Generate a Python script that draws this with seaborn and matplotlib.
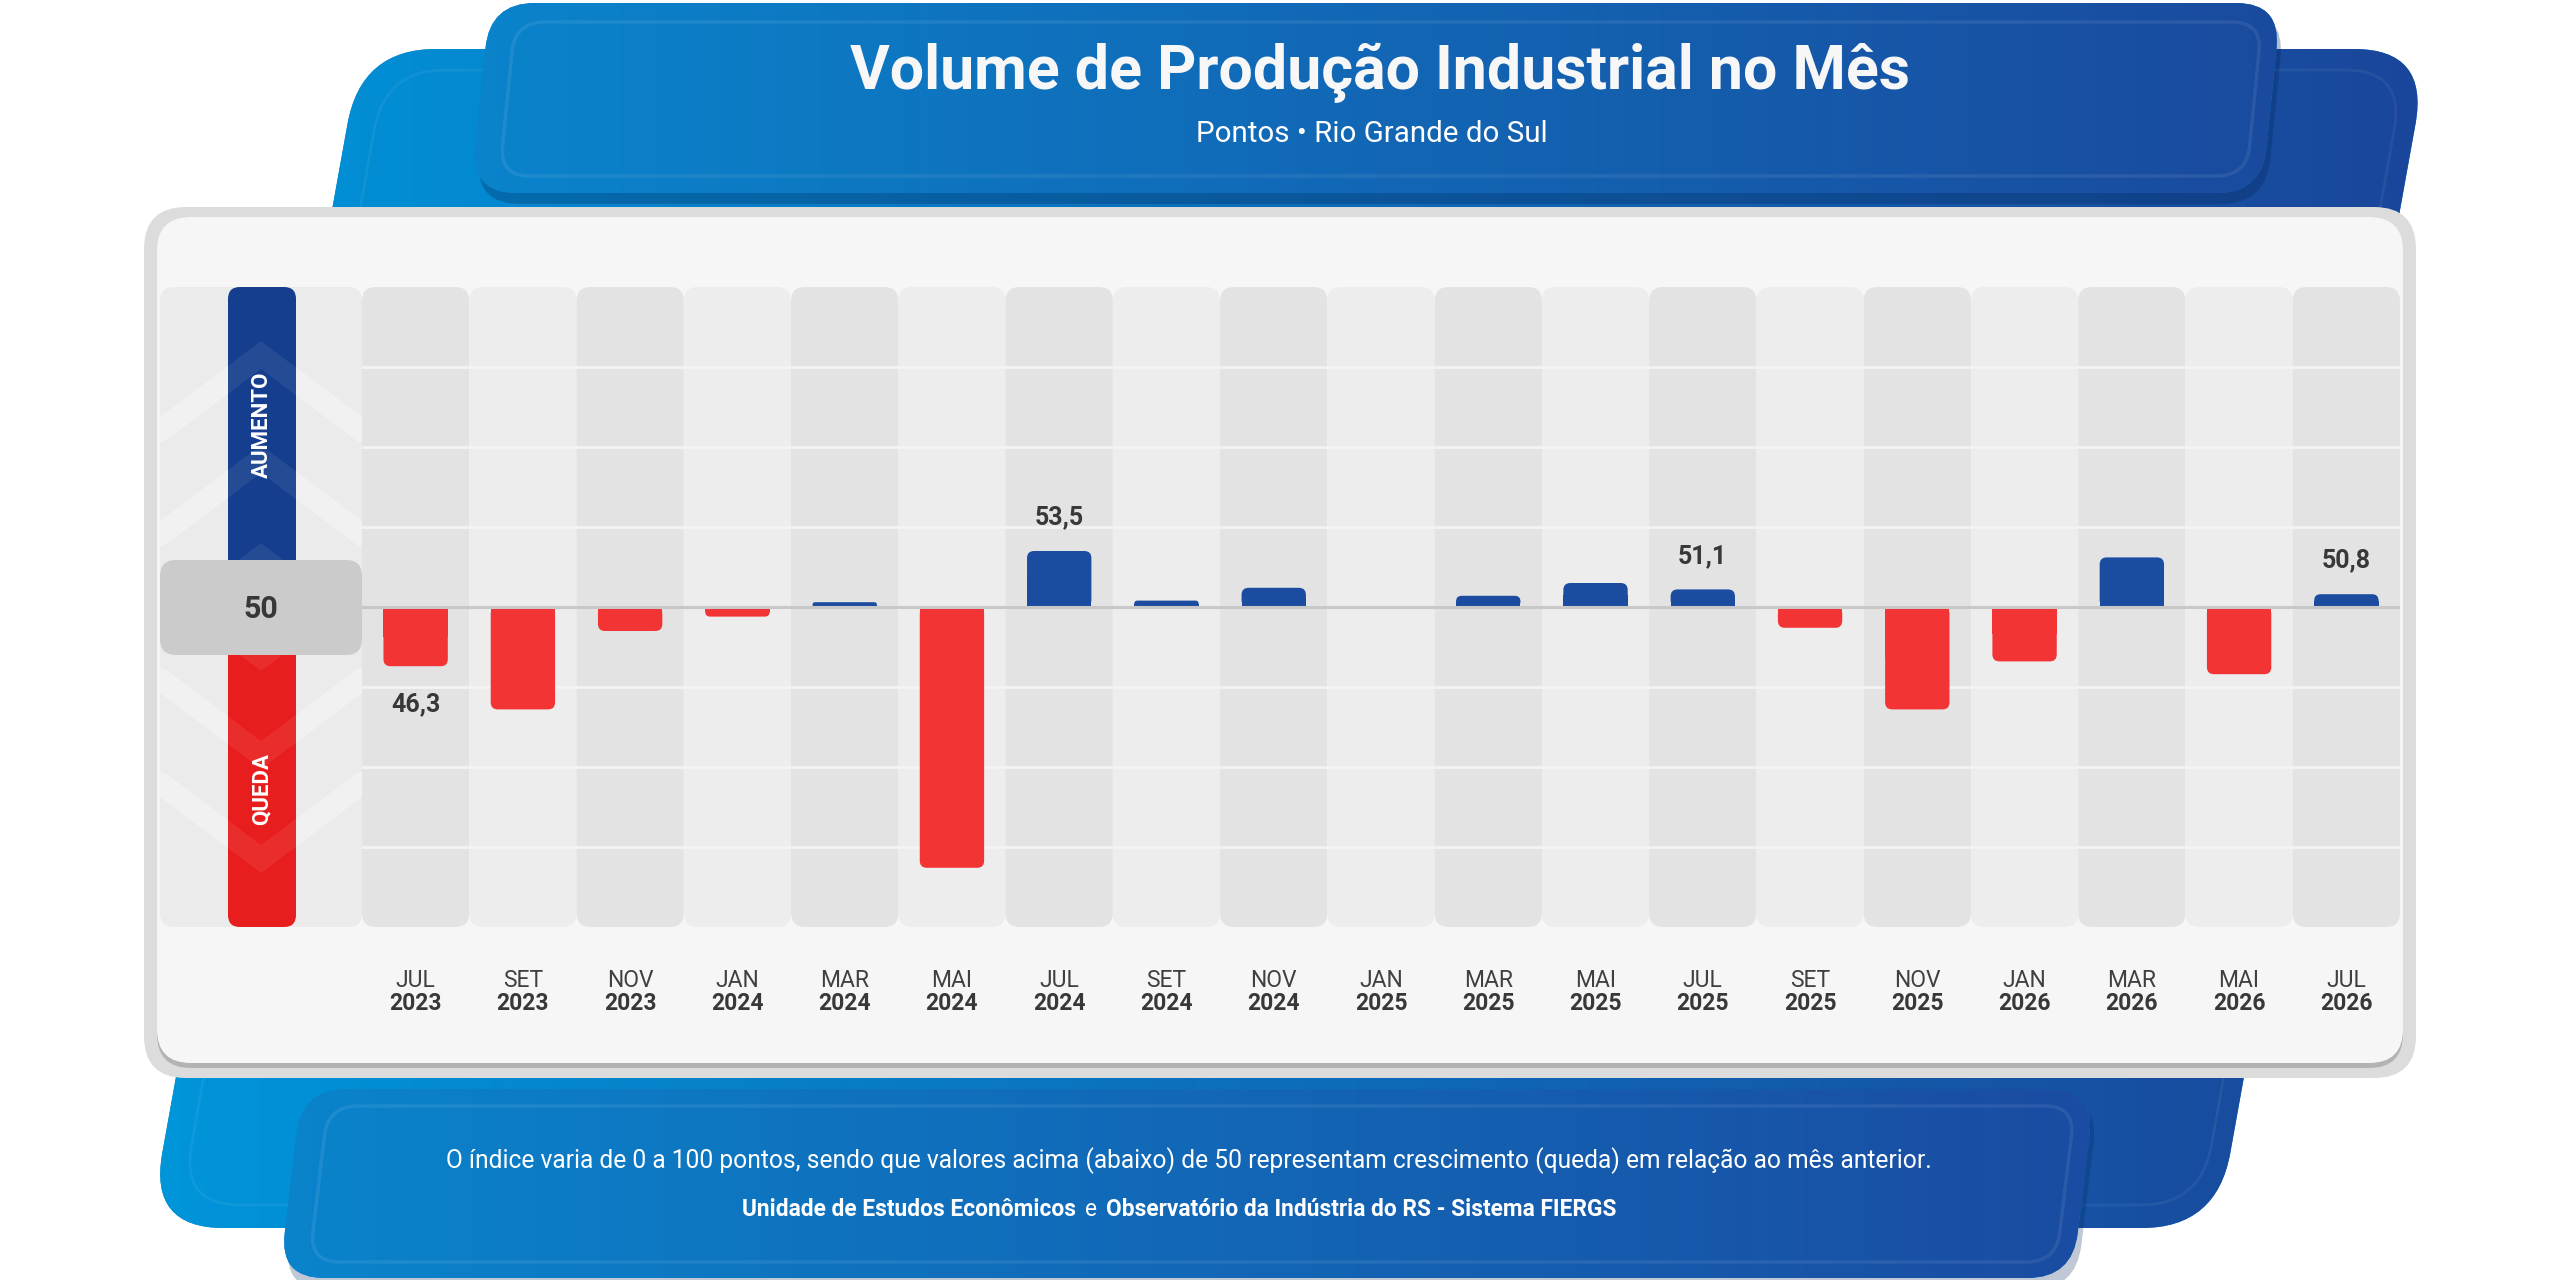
import numpy as np
import pandas as pd
import seaborn as sns
import matplotlib.pyplot as plt
from matplotlib import font_manager
from matplotlib.patches import FancyBboxPatch, Rectangle
from matplotlib.transforms import Affine2D, blended_transform_factory
from matplotlib.colors import LinearSegmentedColormap

# dados (pontos do indice, 50 = estabilidade)
meses = ["JUL", "SET", "NOV", "JAN", "MAR", "MAI", "JUL", "SET", "NOV", "JAN",
         "MAR", "MAI", "JUL", "SET", "NOV", "JAN", "MAR", "MAI", "JUL"]
anos = ["2023", "2023", "2023", "2024", "2024", "2024", "2024", "2024", "2024", "2025",
        "2025", "2025", "2025", "2025", "2025", "2026", "2026", "2026", "2026"]
valores = [46.3, 43.6, 48.5, 49.4, 50.3, 33.7, 53.5, 50.4, 51.2, 50.0,
           50.7, 51.5, 51.1, 48.7, 43.6, 46.6, 53.1, 45.8, 50.8]
rotulados = [0, 6, 12, 18]
referencia = 50

titulo = "Volume de Produção Industrial no Mês"
subtitulo = "Pontos • Rio Grande do Sul"
nota = ("O índice varia de 0 a 100 pontos, sendo que valores acima (abaixo) de 50 "
        "representam crescimento (queda) em relação ao mês anterior.")
fonte_partes = [("Unidade de Estudos Econômicos", "bold"), ("e", "normal"),
                ("Observatório da Indústria do RS - Sistema FIERGS", "bold")]

AZUL = "#1c4ca0"
VERMELHO = "#f23434"
TXT = "#383838"

nomes = {f.name for f in font_manager.fontManager.ttflist}
fonte = "Liberation Sans Narrow" if "Liberation Sans Narrow" in nomes else "Roboto"

sns.set_theme(style="white")
plt.rcParams["font.family"] = [fonte, "DejaVu Sans"]

fig = plt.figure(figsize=(25.6, 12.8), dpi=100)
fig.patch.set_facecolor("white")
bg = fig.add_axes([0, 0, 1, 1])
bg.set_xlim(0, 2560)
bg.set_ylim(1280, 0)
bg.set_autoscale_on(False)
bg.axis("off")
rend = fig.canvas.get_renderer()


def painel(x0, y0, x1, y1, skew, raio, z, **kw):
    p = FancyBboxPatch((x0, y0), x1 - x0, y1 - y0,
                       boxstyle=f"round,pad=0,rounding_size={raio}", zorder=z, **kw)
    m = np.array([[1, -skew, skew * y0], [0, 1, 0], [0, 0, 1]])
    p.set_transform(Affine2D(m) + bg.transData)
    bg.add_patch(p)
    return p


def degrade(p, c1, c2, x0, x1, y0, y1):
    cmap = LinearSegmentedColormap.from_list("g", [c1, c2])
    im = bg.imshow(np.linspace(0, 1, 256)[None, :], cmap=cmap, aspect="auto",
                   extent=[x0, x1, y1, y0], zorder=p.get_zorder(), interpolation="bicubic")
    im.set_clip_path(p)


def ajusta(t, largura):
    w = t.get_window_extent(rend).width
    t.set_fontsize(t.get_fontsize() * largura / w)


# forma azul de fundo
fundo = painel(361, 49, 2429, 1228, 0.18, 75, 1, fc="#0a7fc8", ec="none")
degrade(fundo, "#0095da", "#1a469a", 140, 2430, 49, 1228)
painel(385, 70, 2405, 1205, 0.18, 60, 1.1, fc="none", ec=(1, 1, 1, 0.06), lw=2)

# cabecalho
painel(494, 12, 2285, 204, 0.1, 45, 2, fc=(0.02, 0.15, 0.35, 0.3), ec="none")
cab = painel(490, 3, 2281, 193, 0.1, 45, 3, fc="#0a7fc8", ec="none")
degrade(cab, "#0a84cc", "#1a4a9e", 460, 2290, 3, 193)
painel(515, 22, 2262, 176, 0.1, 30, 3.2, fc="none", ec=(1, 1, 1, 0.08), lw=2.5)

# cartao branco
bg.add_patch(FancyBboxPatch((144, 207), 2272, 871, boxstyle="round,pad=0,rounding_size=42",
                            fc="#dcdcdc", ec="none", zorder=5))
bg.add_patch(FancyBboxPatch((157, 220), 2246, 848, boxstyle="round,pad=0,rounding_size=34",
                            fc="#b3b3b3", ec="none", zorder=5.5))
bg.add_patch(FancyBboxPatch((157, 217), 2246, 846, boxstyle="round,pad=0,rounding_size=34",
                            fc="#f6f6f6", ec="none", zorder=6))

# rodape
painel(306, 1098, 2099, 1290, 0.12, 45, 7, fc=(0.02, 0.15, 0.35, 0.25), ec="none")
rod = painel(302, 1089, 2095, 1278, 0.12, 45, 7.1, fc="#0a7fc8", ec="none")
degrade(rod, "#0a84cc", "#1a4ca2", 270, 2100, 1089, 1278)
painel(328, 1106, 2075, 1262, 0.12, 30, 7.2, fc="none", ec=(1, 1, 1, 0.08), lw=2.5)

# textos do cabecalho e rodape
t = bg.text(1380, 73, titulo, color="#f7f7f7", fontsize=40, fontweight="bold",
            ha="center", va="center", zorder=9)
ajusta(t, 1061)
t = bg.text(1372, 134, subtitulo, color="white", fontsize=20, ha="center", va="center", zorder=9)
ajusta(t, 351)
t = bg.text(1189, 1161, nota, color="white", fontsize=16, ha="center", va="center", zorder=9)
ajusta(t, 1490)

pecas = [bg.text(0, 1210, s, color="white", fontsize=15, fontweight=w, va="center", zorder=9)
         for s, w in fonte_partes]
esp = 9
larg = [p.get_window_extent(rend).width for p in pecas]
k = (880 - 2 * esp) / sum(larg)
for p in pecas:
    p.set_fontsize(p.get_fontsize() * k)
larg = [p.get_window_extent(rend).width for p in pecas]
x = 1179 - (sum(larg) + 2 * esp) / 2
for p, w in zip(pecas, larg):
    p.set_x(x)
    x += w + esp

# painel lateral "50"
col = FancyBboxPatch((160, 287), 202, 640, boxstyle="round,pad=0,rounding_size=14",
                     fc="#ebebeb", ec="none", zorder=8)
bg.add_patch(col)
barra_a = FancyBboxPatch((228, 287), 68, 330, boxstyle="round,pad=0,rounding_size=12",
                         fc="#153e8e", ec="none", zorder=8.2)
barra_q = FancyBboxPatch((228, 597), 68, 330, boxstyle="round,pad=0,rounding_size=12",
                         fc="#e81e1e", ec="none", zorder=8.2)
bg.add_patch(barra_a)
bg.add_patch(barra_q)
for d in [50, 148, 252]:
    for sinal in [-1, 1]:
        ya = 607 + sinal * d
        yb = ya - sinal * 76
        ln, = bg.plot([160, 261, 362], [yb, ya, yb], color="white", alpha=0.35,
                      lw=16, solid_joinstyle="miter", zorder=8.1)
        ln.set_clip_path(col)
        for barra in [barra_a, barra_q]:
            ln, = bg.plot([160, 261, 362], [yb, ya, yb], color="white", alpha=0.07,
                          lw=16, solid_joinstyle="miter", zorder=8.3)
            ln.set_clip_path(barra)
bg.text(262, 425, "AUMENTO", rotation=90, color="white", fontsize=16, fontweight="bold",
        ha="center", va="center", zorder=8.6)
bg.text(262, 789, "QUEDA", rotation=90, color="white", fontsize=16, fontweight="bold",
        ha="center", va="center", zorder=8.6)
bg.add_patch(FancyBboxPatch((160, 560), 202, 95, boxstyle="round,pad=0,rounding_size=16",
                            fc="#cbcbcb", ec="none", zorder=8.8))
bg.text(261, 609, str(referencia), color=TXT, fontsize=22, fontweight="bold",
        ha="center", va="center", zorder=9)

# grafico de barras
ax = fig.add_axes([362 / 2560, (1280 - 927) / 1280, 2038 / 2560, 640 / 1280])
ax.set_zorder(2)
ax.patch.set_alpha(0)

df = pd.DataFrame({"periodo": [f"{m}\n{a}" for m, a in zip(meses, anos)],
                   "delta": np.array(valores) - referencia})
df["sinal"] = np.where(df["delta"] >= 0, "alta", "queda")
sns.barplot(data=df, x="periodo", y="delta", hue="sinal", order=df["periodo"],
            palette={"alta": AZUL, "queda": VERMELHO}, dodge=False, width=0.6,
            saturation=1, legend=False, ax=ax, zorder=2)

n = len(valores)
ax.set_xlim(-0.5, n - 0.5)
ax.set_ylim(-20, 20)
asp = (40 / 640) / (1 / (2038 / n))

# colunas de fundo
for i in range(n):
    ax.add_patch(FancyBboxPatch((i - 0.5, -20), 1, 40,
                                boxstyle=f"round,pad=0,rounding_size={14 / 107}",
                                mutation_aspect=asp, fc="#e3e3e3" if i % 2 == 0 else "#ededed",
                                ec="none", zorder=0))
for g in [-15, -10, -5, 5, 10, 15]:
    ax.axhline(g, color="#f3f3f3", lw=2, zorder=0.5)

# barras com cantos arredondados
for b in list(ax.patches):
    if not isinstance(b, Rectangle) or b.get_zorder() != 2:
        continue
    x0, w, h = b.get_x(), b.get_width(), b.get_height()
    if h == 0:
        continue
    c = b.get_facecolor()
    b.set_visible(False)
    base = min(0, h)
    r = min(7 / 107, abs(h) / asp / 2)
    ax.add_patch(FancyBboxPatch((x0, base), w, abs(h), boxstyle=f"round,pad=0,rounding_size={r}",
                                mutation_aspect=asp, fc=c, ec="none", zorder=2))
    ax.add_patch(Rectangle((x0, 0), w, h / 2, fc=c, ec="none", zorder=2))

ax.axhline(0, color="#c8c8c8", lw=2.2, zorder=3)

for i in rotulados:
    d = valores[i] - referencia
    y = d + 2.1 if d >= 0 else d - 2.4
    ax.text(i, y, f"{valores[i]:.1f}".replace(".", ","), color=TXT, fontsize=18,
            fontweight="bold", ha="center", va="center", zorder=4)

tr = blended_transform_factory(ax.transData, ax.transAxes)
for i in range(n):
    ax.text(i, -0.083, meses[i], transform=tr, color="#404040", fontsize=16.5,
            ha="center", va="center")
    ax.text(i, -0.119, anos[i], transform=tr, color=TXT, fontsize=16.5, fontweight="bold",
            ha="center", va="center")

ax.set_xticks([])
ax.set_yticks([])
ax.set_xlabel("")
ax.set_ylabel("")
sns.despine(ax=ax, left=True, bottom=True)

fig.savefig("out.png", dpi=100)
